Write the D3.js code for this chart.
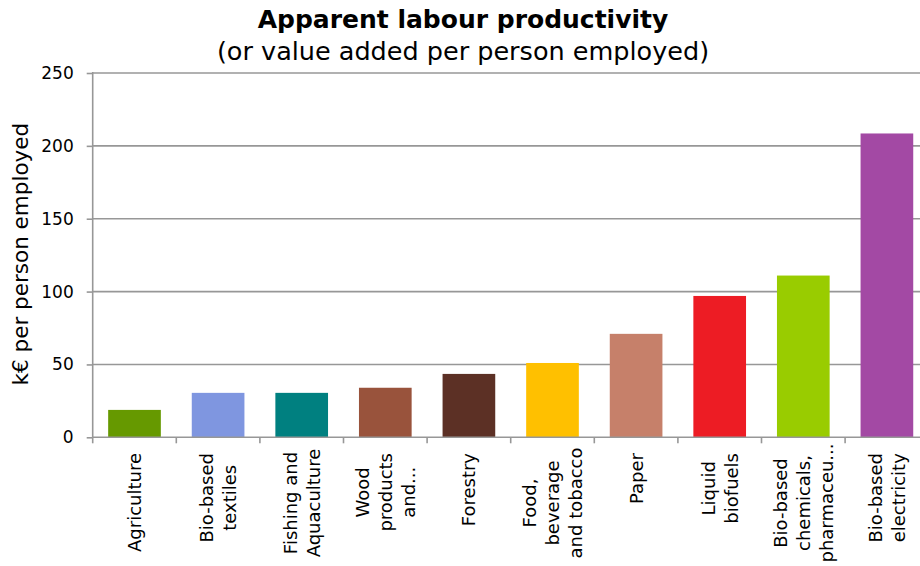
<!DOCTYPE html>
<html>
<head>
<meta charset="utf-8">
<script src="https://cdn.jsdelivr.net/npm/d3@7/dist/d3.min.js"></script>
<style>
  html, body { margin: 0; padding: 0; background: #fff; }
  svg { display: block; font-family: "DejaVu Sans", Verdana, sans-serif; }
</style>
</head>
<body>
<svg id="chart" width="920" height="566"></svg>
<script>
// Sector names, one entry per wrapped line of the axis label
const categories = [
  ["Agriculture"],
  ["Bio-based", "textiles"],
  ["Fishing and", "Aquaculture"],
  ["Wood", "products", "and..."],
  ["Forestry"],
  ["Food,", "beverage", "and tobacco"],
  ["Paper"],
  ["Liquid", "biofuels"],
  ["Bio-based", "chemicals,", "pharmaceu..."],
  ["Bio-based", "electricity"]
];
// Value added per person employed, k€
const productivity = [18.8, 30.5, 30.5, 34, 43.5, 51, 71, 97, 111, 208.5];
const barColors = ["#669900", "#7f96e0", "#008080", "#99533c", "#5c3025",
                   "#ffc000", "#c6806a", "#ed1c24", "#99cc00", "#a349a4"];
const yTicks = [0, 50, 100, 150, 200, 250];

const svg = d3.select("#chart");
const plot = { left: 92.7, right: 928.7, top: 73, bottom: 437.3 };
const gridColor = "#979797";

const x = d3.scaleBand()
  .domain(d3.range(categories.length))
  .range([plot.left, plot.right])
  .paddingInner(0.37)
  .paddingOuter(0.185);
const step = x.step();

const y = d3.scaleLinear().domain([0, 250]).range([plot.bottom, plot.top]);

// Horizontal gridlines
svg.append("g")
  .selectAll("line")
  .data(yTicks.filter(d => d > 0))
  .join("line")
  .attr("x1", plot.left).attr("x2", plot.right)
  .attr("y1", d => y(d)).attr("y2", d => y(d))
  .attr("stroke", gridColor).attr("stroke-width", 1.6);

// Bars
svg.append("g")
  .selectAll("rect")
  .data(productivity)
  .join("rect")
  .attr("x", (d, i) => x(i))
  .attr("width", x.bandwidth())
  .attr("y", d => y(d))
  .attr("height", d => y(0) - y(d))
  .attr("fill", (d, i) => barColors[i]);

// Y axis
const yAxis = svg.append("g")
  .attr("transform", `translate(${plot.left},0)`)
  .call(d3.axisLeft(y).tickValues(yTicks).tickSize(6).tickPadding(13));
yAxis.select(".domain").attr("stroke", gridColor).attr("stroke-width", 1.6)
  .attr("d", `M0,${plot.top - 1}V${plot.bottom}`);
yAxis.selectAll(".tick line").attr("stroke", gridColor).attr("stroke-width", 1.6);
yAxis.selectAll(".tick text")
  .attr("fill", "#000")
  .style("font-size", "17px")
  .style("font-family", "'DejaVu Sans', Verdana, sans-serif");

// X axis line with tick marks on the category boundaries
const xAxis = svg.append("g");
xAxis.append("line")
  .attr("x1", plot.left).attr("x2", plot.right)
  .attr("y1", plot.bottom).attr("y2", plot.bottom)
  .attr("stroke", gridColor).attr("stroke-width", 1.6);
xAxis.selectAll("line.tk")
  .data(d3.range(categories.length + 1))
  .join("line")
  .attr("class", "tk")
  .attr("x1", i => plot.left + i * step).attr("x2", i => plot.left + i * step)
  .attr("y1", plot.bottom).attr("y2", plot.bottom + 6)
  .attr("stroke", gridColor).attr("stroke-width", 1.6);

// Rotated, centred multi-line category labels; long labels are centred
// on a capped block length so they stay inside the page
const labelSize = 18, lineGap = 23, labelTop = 453, maxBlock = 100;
categories.forEach((lines, i) => {
  const cx = x(i) + x.bandwidth() / 2;
  const g = svg.append("g")
    .attr("transform", `translate(${cx},${labelTop}) rotate(-90)`);
  const texts = lines.map((line, j) =>
    g.append("text")
      .attr("text-anchor", "middle")
      .attr("y", (j - (lines.length - 1) / 2) * lineGap + labelSize * 0.36)
      .style("font-size", labelSize + "px")
      .attr("fill", "#000")
      .text(line));
  const maxLen = d3.max(texts, t => t.node().getComputedTextLength());
  const mid = Math.min(maxLen, maxBlock) / 2;
  texts.forEach(t => t.attr("x", -mid));
});

// Y axis title
svg.append("text")
  .attr("transform", `translate(28,${(plot.top + plot.bottom) / 2 - 1}) rotate(-90)`)
  .attr("text-anchor", "middle")
  .style("font-size", "21.5px")
  .attr("fill", "#000")
  .text("k€ per person employed");

// Titles
svg.append("text")
  .attr("x", 463).attr("y", 28.3)
  .attr("text-anchor", "middle")
  .style("font-size", "25px")
  .style("font-weight", "bold")
  .attr("fill", "#000")
  .text("Apparent labour productivity");
svg.append("text")
  .attr("x", 463).attr("y", 60)
  .attr("text-anchor", "middle")
  .style("font-size", "25.5px")
  .attr("fill", "#000")
  .text("(or value added per person employed)");
</script>
</body>
</html>
